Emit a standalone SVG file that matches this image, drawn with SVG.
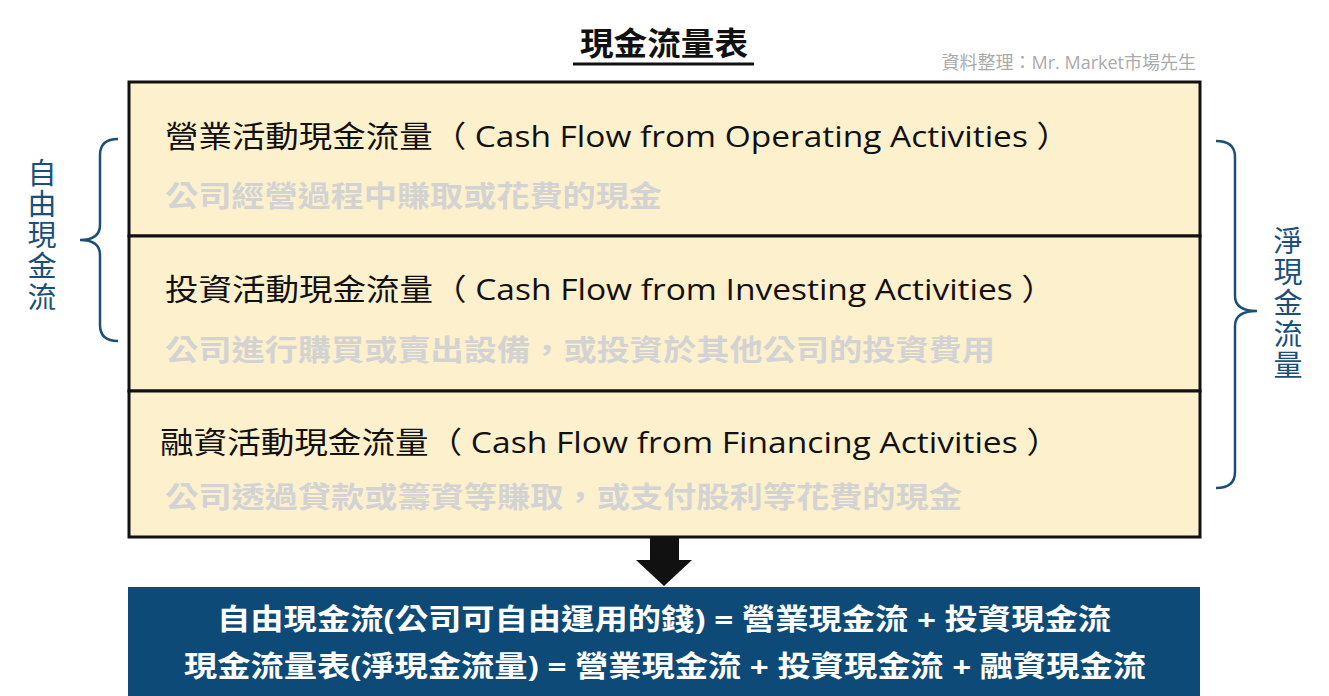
<svg xmlns="http://www.w3.org/2000/svg" width="1329" height="696" viewBox="0 0 1329 696">
<style>
text{font-family:"Open Sans","Noto Sans CJK TC",sans-serif}
.h{font-size:30px;fill:#111}
.s{font-size:29px;fill:#d3d3d3;font-weight:bold}
.v{font-size:29px;fill:#1a4f7a;font-family:"Noto Sans CJK TC",sans-serif;writing-mode:vertical-rl;letter-spacing:2px}
.br{fill:none;stroke:#1a4f7a;stroke-width:2.5}
.w{font-size:29px;fill:#fff;font-weight:bold}
</style>
<rect width="1329" height="696" fill="#fff"/>
<g id="title">
<text x="580" y="55" textLength="168" lengthAdjust="spacingAndGlyphs" font-size="32" font-weight="bold" fill="#111">現金流量表</text>
<line x1="573" y1="64" x2="754" y2="64" stroke="#111" stroke-width="3"/>
<text x="1196" y="69" text-anchor="end" font-size="18" fill="#aaa">資料整理：Mr. Market市場先生</text>
</g>
<g id="operating">
<rect x="129" y="82" width="1071" height="154" fill="#fdf0cc" stroke="#111" stroke-width="3"/>
<text class="h" x="165" y="147" textLength="905" lengthAdjust="spacingAndGlyphs">營業活動現金流量（ Cash Flow from Operating Activities ）</text>
<text class="s" x="165" y="207" textLength="497" lengthAdjust="spacingAndGlyphs">公司經營過程中賺取或花費的現金</text>
</g>
<g id="investing">
<rect x="129" y="236" width="1071" height="155" fill="#fdf0cc" stroke="#111" stroke-width="3"/>
<text class="h" x="165" y="300" textLength="890" lengthAdjust="spacingAndGlyphs">投資活動現金流量（ Cash Flow from Investing Activities ）</text>
<text class="s" x="165" y="361" textLength="830" lengthAdjust="spacingAndGlyphs">公司進行購買或賣出設備，或投資於其他公司的投資費用</text>
</g>
<g id="financing">
<rect x="129" y="391" width="1071" height="146" fill="#fdf0cc" stroke="#111" stroke-width="3"/>
<text class="h" x="160" y="453" textLength="900" lengthAdjust="spacingAndGlyphs">融資活動現金流量（ Cash Flow from Financing Activities ）</text>
<text class="s" x="165" y="508" textLength="797" lengthAdjust="spacingAndGlyphs">公司透過貸款或籌資等賺取，或支付股利等花費的現金</text>
</g>
<g id="free-cf">
<path class="br" d="M118,139 Q100,139 100,155 L100,225 Q100,240 80,240 Q100,240 100,255 L100,325 Q100,341 118,341"/>
<text class="v" x="42" y="158">自由現金流</text>
</g>
<g id="net-cf">
<path class="br" d="M1216,141 Q1235,141 1235,157 L1235,296 Q1235,311 1257,311 Q1235,311 1235,326 L1235,472 Q1235,488 1216,488"/>
<text class="v" x="1288" y="226">淨現金流量</text>
</g>
<g id="connectors">
<polygon points="650,538 679,538 679,560 692,560 664,586 636,560 650,560" fill="#111"/>
</g>
<g id="summary">
<rect x="128" y="587" width="1072" height="109" fill="#0d4a78"/>
<text class="w" x="217" y="630" textLength="894" lengthAdjust="spacingAndGlyphs">自由現金流(公司可自由運用的錢) = 營業現金流 + 投資現金流</text>
<text class="w" x="184" y="677" textLength="962" lengthAdjust="spacingAndGlyphs">現金流量表(淨現金流量) = 營業現金流 + 投資現金流 + 融資現金流</text>
</g>
</svg>
